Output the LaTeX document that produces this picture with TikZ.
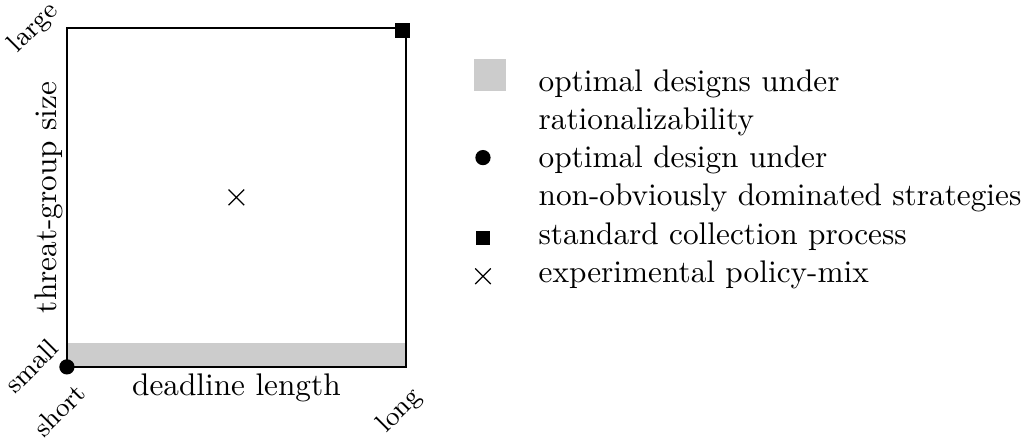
\documentclass[tikz,border=0pt]{standalone}
\usepackage{amsmath,amssymb}
\usepackage{tikz}
\usetikzlibrary{shapes,positioning,calc}

\begin{document}
\begin{tikzpicture}[
    font=\fontsize{10.5pt}{12.75pt}\selectfont,
    corner/.style={font=\fontsize{9pt}{11pt}\selectfont, rotate=45},
    legtext/.style={anchor=base west, align=left, inner sep=0pt},
    dot/.style={circle, fill=black, inner sep=0pt, minimum size=0.18cm},
    sqmark/.style={rectangle, fill=black, inner sep=0pt, minimum size=0.17cm},
    xmark/.style={cross out, draw, inner sep=0pt, minimum size=0.17cm, thin},
    band/.style={fill=black!20}
]
    \useasboundingbox (-0.79,-0.84) rectangle (11.26,4.33);

    % design space
    \fill[band] (0,0) rectangle (4,0.28);
    \draw[line width=0.7pt] (0,0) rectangle (4,4);

    \node[dot] (nods) at (0,0) {};
    \node[sqmark] (std) at (3.96,3.97) {};
    \node[xmark] (mix) at (2,2) {};

    % axes
    \node[anchor=base] (xlab) at (2,-0.34) {deadline length};
    \node[rotate=90, anchor=base] (ylab) at (-0.12,2) {threat-group size};
    \node[corner] (short) at (-0.09,-0.51) {short};
    \node[corner] (long) at (3.93,-0.52) {long};
    \node[corner] (small) at (-0.42,0.01) {small};
    \node[corner] (large) at (-0.39,4.00) {large};

    % legend (base = last line)
    \node[band, minimum size=0.378cm, inner sep=0pt] (legband) at (4.99,3.45) {};
    \node[dot] (legdot) at (4.91,2.47) {};
    \node[sqmark] (legsq) at (4.91,1.52) {};
    \node[xmark] (legx) at (4.91,1.07) {};

    \node[legtext] (txtband) at (5.56,2.797) {optimal designs under\\rationalizability};
    \node[legtext] (txtdot) at (5.56,1.90) {optimal design under\\non-obviously dominated strategies};
    \node[legtext] (txtsq) at (5.56,1.44) {standard collection process};
    \node[legtext] (txtx) at (5.56,1.00) {experimental policy-mix};
\end{tikzpicture}
\end{document}
